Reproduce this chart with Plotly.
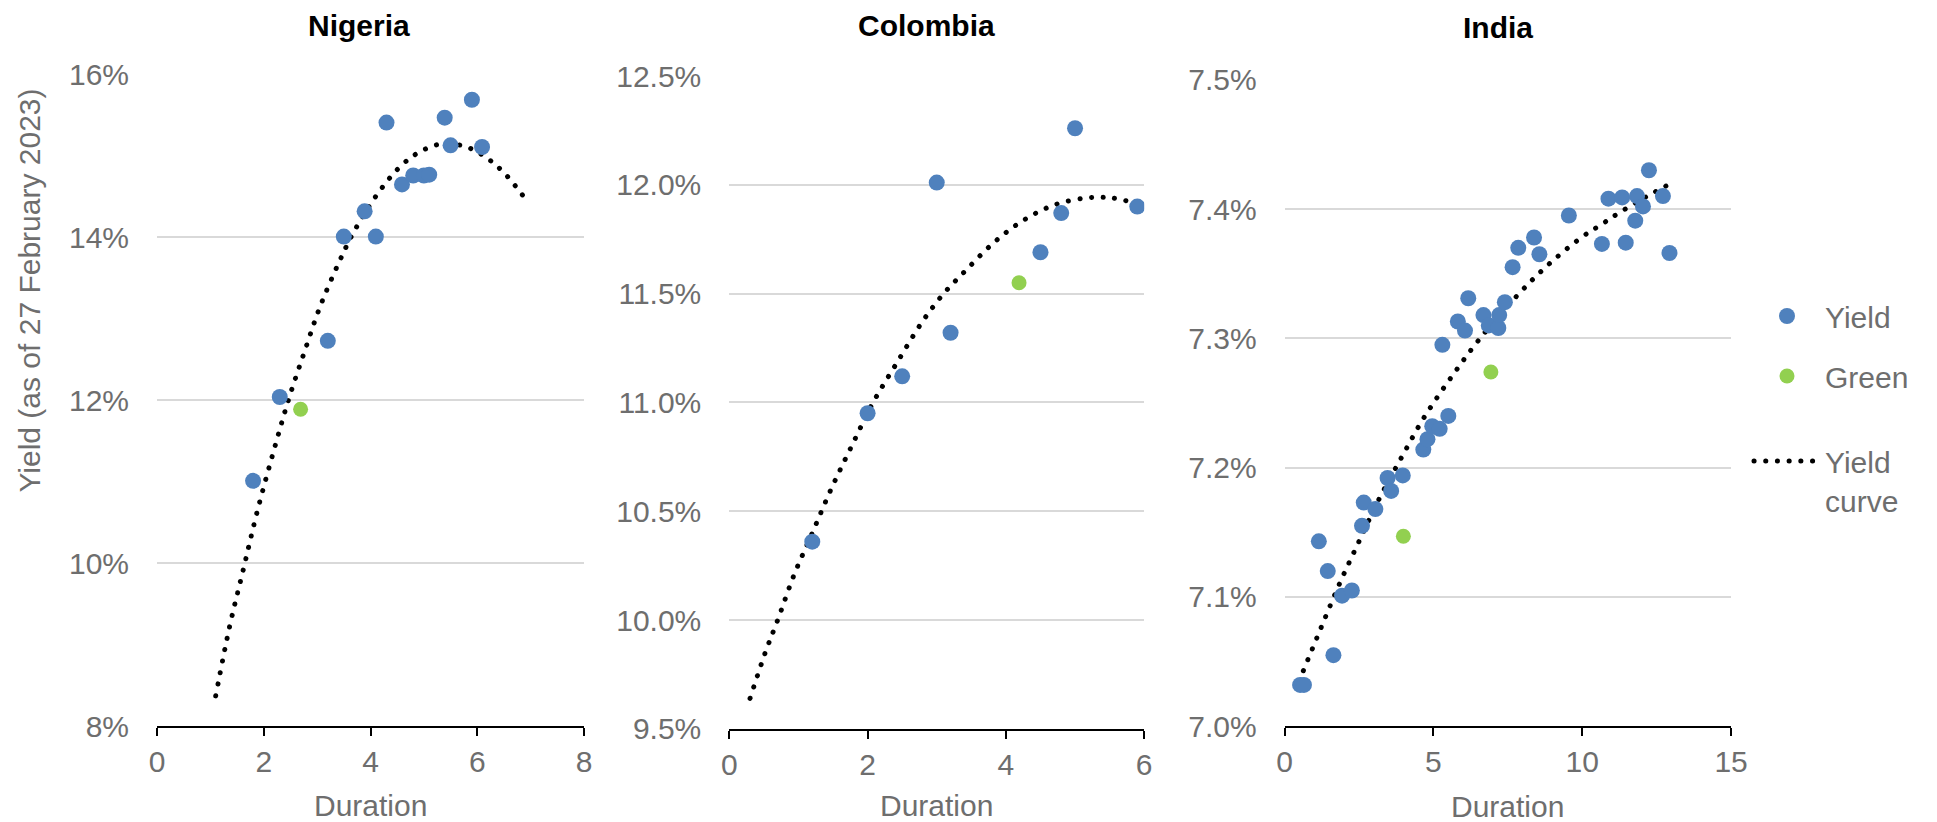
import plotly.graph_objects as go

W, H = 1937, 822
BLUE = "#4F81BD"
GREEN = "#92D050"
GRAY = "#6E6E6E"
GRID = "#D9D9D9"
FONT = "Liberation Sans, Arial, sans-serif"

# ---------------- data (duration, yield %) ----------------
nigeria_duration = [1.80, 2.30, 3.20, 3.50, 3.89, 4.10, 4.30, 4.59, 4.80, 5.00, 5.10, 5.39, 5.50, 5.90, 6.09]
nigeria_yield = [11.01, 12.04, 12.73, 14.01, 14.32, 14.01, 15.41, 14.65, 14.76, 14.76, 14.77, 15.47, 15.13, 15.69, 15.11]
nigeria_green_duration = [2.69]
nigeria_green_yield = [11.89]
nigeria_curve_duration = [1.10, 1.36, 1.62, 1.88, 2.23, 2.48, 2.76, 3.05, 3.40, 3.69, 4.16, 4.59, 4.95, 5.36, 5.80, 6.19, 6.52, 6.94]
nigeria_curve_yield = [8.37, 9.22, 9.93, 10.64, 11.48, 12.04, 12.59, 13.14, 13.68, 14.07, 14.56, 14.89, 15.06, 15.15, 15.11, 14.97, 14.78, 14.44]

colombia_duration = [1.20, 2.00, 2.50, 3.00, 3.20, 4.50, 4.80, 5.00, 5.90]
colombia_yield = [10.36, 10.95, 11.12, 12.01, 11.32, 11.69, 11.87, 12.26, 11.90]
colombia_green_duration = [4.19]
colombia_green_yield = [11.55]
colombia_curve_duration = [0.30, 0.52, 0.70, 0.94, 1.20, 1.47, 1.77, 2.08, 2.42, 2.79, 3.10, 3.43, 3.81, 4.22, 4.68, 5.17, 5.52, 5.82]
colombia_curve_yield = [9.64, 9.85, 10.00, 10.21, 10.40, 10.60, 10.80, 11.00, 11.18, 11.37, 11.50, 11.61, 11.73, 11.83, 11.905, 11.94, 11.94, 11.92]

india_duration = [0.52, 0.65, 1.15, 1.45, 1.64, 1.93, 2.26, 2.60, 2.66, 3.05,
                  3.46, 3.58, 3.97, 4.66, 4.80, 4.96, 5.21, 5.30, 5.50, 5.82,
                  6.06, 6.17, 6.68, 6.86, 7.18, 7.21, 7.40, 7.66, 7.85, 8.38,
                  8.56, 9.55, 10.66, 10.88, 11.34, 11.46, 11.78, 11.84, 12.04, 12.24,
                  12.71, 12.93]
india_yield = [7.032, 7.032, 7.143, 7.120, 7.055, 7.101, 7.105, 7.155, 7.173, 7.168,
               7.192, 7.182, 7.194, 7.214, 7.222, 7.232, 7.230, 7.295, 7.240, 7.313,
               7.306, 7.331, 7.318, 7.310, 7.308, 7.318, 7.328, 7.355, 7.370, 7.378,
               7.365, 7.395, 7.373, 7.408, 7.409, 7.374, 7.391, 7.410, 7.402, 7.430,
               7.410, 7.366]
india_green_duration = [3.99, 6.93]
india_green_yield = [7.147, 7.274]
india_curve_duration = [0.63, 1.22, 1.84, 2.50, 3.18, 3.93, 4.69, 5.57, 6.50, 7.77, 8.86, 10.03, 10.64, 11.23, 12.19, 12.83]
india_curve_yield = [7.043, 7.076, 7.110, 7.143, 7.176, 7.208, 7.239, 7.269, 7.298, 7.332, 7.357, 7.379, 7.388, 7.397, 7.410, 7.418]

country_names = ["Nigeria", "Colombia", "India"]
x_ticks = [[0, 2, 4, 6, 8], [0, 2, 4, 6], [0, 5, 10, 15]]
y_ticks = [[8, 10, 12, 14, 16],
           [9.5, 10.0, 10.5, 11.0, 11.5, 12.0, 12.5],
           [7.0, 7.1, 7.2, 7.3, 7.4, 7.5]]
y_tick_text = [["8%", "10%", "12%", "14%", "16%"],
               ["9.5%", "10.0%", "10.5%", "11.0%", "11.5%", "12.0%", "12.5%"],
               ["7.0%", "7.1%", "7.2%", "7.3%", "7.4%", "7.5%"]]

panels = [
    (nigeria_duration, nigeria_yield, nigeria_green_duration, nigeria_green_yield,
     nigeria_curve_duration, nigeria_curve_yield),
    (colombia_duration, colombia_yield, colombia_green_duration, colombia_green_yield,
     colombia_curve_duration, colombia_curve_yield),
    (india_duration, india_yield, india_green_duration, india_green_yield,
     india_curve_duration, india_curve_yield),
]

# layout geometry (pixels)
x_dom_px = [(157, 584), (729.3, 1144.2), (1284.6, 1731.1)]
y_dom_px = [(74.5, 726), (76, 728.8), (79.7, 726.3)]
title_pos = [(358.6, 25), (926.5, 25), (1497.5, 28)]
xtitle_y = [805, 805, 806]

fig = go.Figure()

for i, (d, y, gd_, gy, cd, cy) in enumerate(panels):
    sfx = "" if i == 0 else str(i + 1)
    xa, ya = "x" + sfx, "y" + sfx
    first = i == 0
    fig.add_trace(go.Scatter(
        x=cd, y=cy, mode="lines", name="Yield<br>curve", legendgroup="curve",
        legend="legend2", showlegend=first, xaxis=xa, yaxis=ya, hoverinfo="skip",
        line=dict(color="black", width=5, dash="0.1px,11.6px", shape="spline", smoothing=1.0)))
    fig.add_trace(go.Scatter(
        x=d, y=y, mode="markers", name="Yield", legendgroup="yield",
        legendrank=1, showlegend=first, xaxis=xa, yaxis=ya,
        marker=dict(color=BLUE, size=16, line=dict(width=0))))
    fig.add_trace(go.Scatter(
        x=gd_, y=gy, mode="markers", name="Green", legendgroup="green",
        legendrank=2, showlegend=first, xaxis=xa, yaxis=ya,
        marker=dict(color=GREEN, size=15, line=dict(width=0))))

    xk = "xaxis" + sfx
    yk = "yaxis" + sfx
    xt = x_ticks[i]
    yt = y_ticks[i]
    fig.layout[xk] = dict(
        domain=[x_dom_px[i][0] / W, x_dom_px[i][1] / W],
        range=[xt[0], xt[-1]], tickvals=xt, ticktext=[str(v) for v in xt], anchor=ya,
        showgrid=False, zeroline=False, showline=True, linecolor="black", linewidth=1.5,
        ticks="outside", ticklen=8, tickwidth=1.5, tickcolor="black",
        tickfont=dict(family=FONT, size=30, color=GRAY), ticklabelstandoff=0,
        automargin=False, fixedrange=True)
    fig.layout[yk] = dict(
        domain=[1 - y_dom_px[i][1] / H, 1 - y_dom_px[i][0] / H],
        range=[yt[0], yt[-1]], tickvals=yt, ticktext=y_tick_text[i],
        anchor=xa, showgrid=True, gridcolor=GRID, gridwidth=1.5, zeroline=False,
        showline=False, ticks="", tickfont=dict(family=FONT, size=30, color=GRAY),
        ticklabelstandoff=27, automargin=False, fixedrange=True)

annotations = []
for i, name in enumerate(country_names):
    tx, ty = title_pos[i]
    annotations.append(dict(text="<b>" + name + "</b>", x=tx / W, y=1 - ty / H,
                            xref="paper", yref="paper", xanchor="center", yanchor="middle",
                            showarrow=False, font=dict(family=FONT, size=30, color="black")))
    cx = (x_dom_px[i][0] + x_dom_px[i][1]) / 2
    annotations.append(dict(text="Duration", x=cx / W, y=1 - xtitle_y[i] / H,
                            xref="paper", yref="paper", xanchor="center", yanchor="middle",
                            showarrow=False, font=dict(family=FONT, size=30, color=GRAY)))
annotations.append(dict(text="Yield (as of 27 February 2023)", x=29.6 / W, y=1 - 291 / H,
                        xref="paper", yref="paper", xanchor="center", yanchor="middle",
                        textangle=-90, showarrow=False,
                        font=dict(family=FONT, size=30, color=GRAY)))

fig.update_layout(
    template="none",
    width=W, height=H, autosize=False,
    margin=dict(l=0, r=0, t=0, b=0, pad=0),
    paper_bgcolor="white", plot_bgcolor="white",
    font=dict(family=FONT, size=30, color=GRAY),
    annotations=annotations,
    showlegend=True,
    legend=dict(x=1749 / W, xanchor="left", y=1 - 290 / H, yanchor="top",
                font=dict(family=FONT, size=30, color=GRAY),
                bgcolor="rgba(0,0,0,0)", borderwidth=0,
                itemwidth=66, tracegroupgap=18, traceorder="grouped", valign="top"),
    legend2=dict(x=1749 / W, xanchor="left", y=1 - 435 / H, yanchor="top",
                 font=dict(family=FONT, size=30, color=GRAY),
                 bgcolor="rgba(0,0,0,0)", borderwidth=0,
                 itemwidth=66, valign="top"),
)

post = """
var gd = document.getElementById('{plot_id}');
function fixDots(){
  document.body.style.margin = '0';
  document.querySelectorAll('path.js-line, .legendlines path').forEach(function(p){
    p.style.strokeLinecap = 'round';
  });
}
fixDots();
setTimeout(fixDots, 30);
setTimeout(fixDots, 300);
if (gd && gd.on) { gd.on('plotly_afterplot', fixDots); }
"""

fig.write_html("out.html", config={"displayModeBar": False}, post_script=post)
